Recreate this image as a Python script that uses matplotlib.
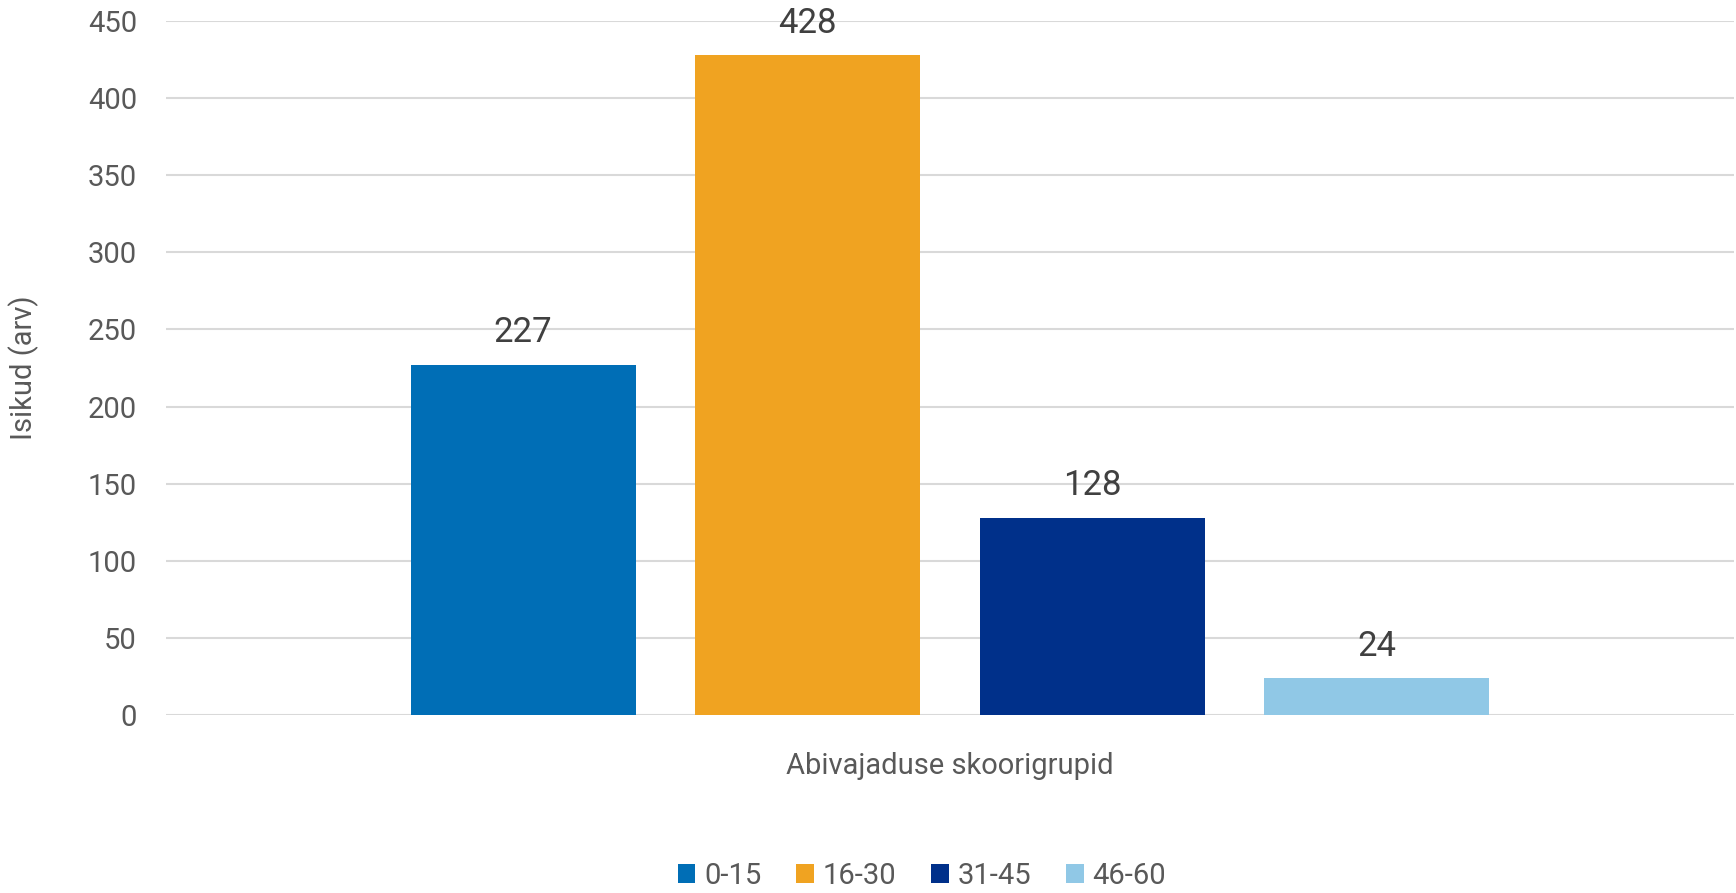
import matplotlib
matplotlib.use("Agg")
import matplotlib.pyplot as plt
import numpy as np

plt.rcParams["font.family"] = ["Roboto", "DejaVu Sans"]

groups = ["0-15", "16-30", "31-45", "46-60"]
counts = [227, 428, 128, 24]
colors = ["#006EB6", "#F0A321", "#00308A", "#90C8E6"]
yticks = [0, 50, 100, 150, 200, 250, 300, 350, 400, 450]

fig = plt.figure(figsize=(17.36, 8.93), dpi=100)
ax = fig.add_axes([166 / 1736, 1 - 715 / 893, 1568 / 1736, 694 / 893])

x = np.arange(len(groups)) - (len(groups) - 1) / 2
for xi, n, c, g in zip(x, counts, colors, groups):
    ax.bar(xi, n, width=0.79, color=c, label=g, zorder=2)
    ax.text(xi, n + 10, str(n), ha="center", va="bottom",
            fontsize=25, color="#404040")

ax.set_xlim(-2.755, 2.755)
ax.set_ylim(0, 450)
ax.set_yticks(yticks)
ax.set_xticks([])
ax.grid(axis="y", color="#D9D9D9", linewidth=1.5, zorder=0)
for s in ax.spines.values():
    s.set_visible(False)
ax.tick_params(axis="y", length=0, pad=21, labelsize=21, labelcolor="#595959")

fig.text(950 / 1736, 1 - 766 / 893, "Abivajaduse skoorigrupid", ha="center",
         va="center", fontsize=21, color="#595959")
fig.text(24 / 1736, 1 - 368 / 893, "Isikud (arv)", ha="center", va="center",
         rotation=90, fontsize=21, color="#595959")

fig.legend(loc="center", bbox_to_anchor=(922 / 1736, 1 - 876 / 893), ncol=4,
           frameon=False, fontsize=21, labelcolor="#595959",
           handlelength=0.6, handleheight=0.6, handletextpad=0.3,
           columnspacing=1.2)

fig.savefig("out.png", dpi=100)
